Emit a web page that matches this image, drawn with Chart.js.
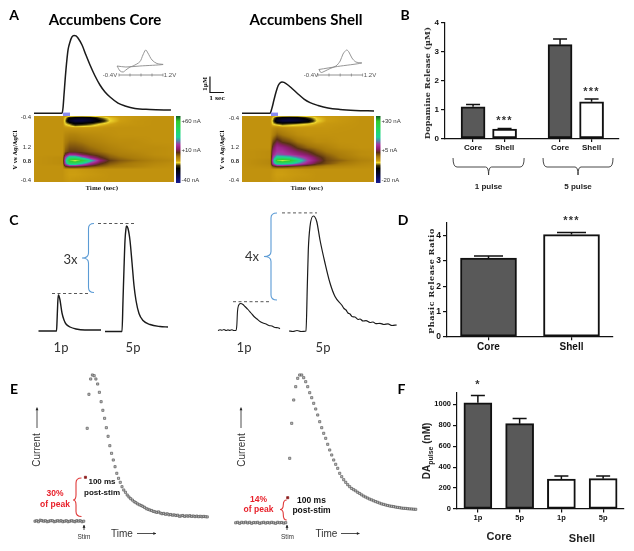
<!DOCTYPE html>
<html>
<head>
<meta charset="utf-8">
<style>
  html, body { margin: 0; padding: 0; background: #fff; }
  #page { position: relative; width: 634px; height: 551px; overflow: hidden; filter: blur(0.3px); }
  #page canvas { position: absolute; }
  .lbl { position: absolute; white-space: nowrap; line-height: 1; }
  .lbl sub { font-size: 70%; line-height: 0; }
</style>
<script src="https://cdn.jsdelivr.net/npm/chart.js@4"></script>
</head>
<body>
<div id="page"></div>
<script>
// Panel A: amperometric traces, seconds from stim vs uM
const coreTraceTime = [-2.07, -0.07, 0, 0.07, 0.21, 0.36, 0.5, 0.64, 0.79, 0.93, 1.07, 1.36, 1.64, 1.93, 2.29, 2.64, 3, 3.36, 3.93, 4.43, 5.14, 6.21, 7.71];
const coreTraceUM = [0, 0, 0.33, 1.14, 2.71, 3.96, 4.46, 4.77, 4.87, 4.84, 4.71, 4.27, 3.64, 3.02, 2.33, 1.77, 1.33, 1.02, 0.64, 0.46, 0.3, 0.24, 0.2];
const shellTraceTime = [-2.07, -0.07, 0.07, 0.21, 0.36, 0.5, 0.64, 0.79, 0.93, 1.21, 1.5, 1.93, 2.36, 2.79, 3.36, 4.07, 4.93, 6, 7.36];
const shellTraceUM = [0, 0, 0.33, 0.83, 1.33, 1.71, 1.89, 1.96, 1.93, 1.77, 1.55, 1.21, 0.89, 0.67, 0.49, 0.33, 0.24, 0.18, 0.14];
const stimTime = [0, 0.5];

// Panel A: cyclic voltammogram insets
const coreCvVolts = [-0.47, -0.36, -0.25, -0.15, 0, 0.11, 0.36, 0.47, 0.57, 0.65, 0.8, 0.98, 1.2, 0.36, -0.15, -0.47];
const coreCvCurrent = [0, -5, -6, -4, -1, 0, 4.3, 11, 16, 13, 6, 2.5, 1.5, 0, -1, 0];
const shellCvVolts = [-0.36, -0.29, -0.14, 0.04, 0.25, 0.4, 0.5, 0.63, 0.71, 0.82, 0.96, 1.17, 0.3, -0.36];
const shellCvCurrent = [0, -3.5, -2, 0.5, 3, 8, 15, 19, 17, 11, 7, 6, 2.5, -0.5];
const cvAxisVolts = [-0.4, 0, 0.4, 0.8, 1.2];

// Panel A: colour plots, one row per scan sample, one column per time
const heatTimes = [-2.14, -0.1, 0.1, 0.4, 0.8, 1.3, 1.9, 2.6, 3.3, 4, 5, 6.5, 8.9];
const heatSamples = [0, 2, 5, 8, 12, 19, 26, 32, 36, 39, 42, 45, 48, 51, 54, 59, 67];
const coreHeat = [
  [-5, -5, -6, -7.5, -7.5, -7.5, -7, -7, -6.5, -6, -5.5, -5, -5],
  [-5, -5, -10, -20, -24, -26, -24, -14, -9, -7, -6, -5, -5],
  [-5, -5, -12, -27, -32, -32, -28, -20, -10, -7, -5.5, -5, -5],
  [-5, -5, -10, -13, -20, -18, -15, -10, -7.5, -6, -5.5, -5, -5],
  [-5, -5, -5.5, -6, -6, -6, -6, -5.5, -5, -5, -5, -5, -5],
  [-5, -5, -3, -2, -2, -3, -3.5, -4, -4.5, -5, -5, -5, -5],
  [-5, -5, -1, 1, 1, 0, -1.5, -2.5, -3.5, -4, -4, -5, -5],
  [-5, -5, 1, 4, 4, 3, 1, -0.5, -2, -3, -4, -4, -5],
  [-5, -5, 3, 6, 6, 5, 3, 1, -1, -2, -3, -4, -5],
  [-5, -5, 9, 18, 17, 11, 7, 4, 1, -1, -2, -4, -5],
  [-5, -4, 20, 40, 40, 28, 16, 8, 3, 1, -1, -3, -5],
  [-5, -4, 26, 62, 72, 58, 34, 14, 6, 3, 1, -2, -4],
  [-5, -4, 22, 44, 44, 32, 18, 8, 3, 1, -1, -3, -5],
  [-5, -5, 6, 10, 10, 8, 5, 2, 0, -1, -2, -4, -5],
  [-5, -5, -6, -6.5, -6.5, -6, -5.5, -5, -5, -5, -5, -5, -5],
  [-5, -5, -6, -7, -7, -6.5, -6, -5.5, -5, -5, -5, -5, -5],
  [-5, -5, -5.5, -6, -5.5, -5.5, -5, -5, -5, -5, -5, -5, -5]
];
const shellHeat = [
  [-2.5, -2.5, -3, -4, -4, -4, -4, -3.8, -3.4, -3, -2.8, -2.5, -2.5],
  [-2.5, -2.5, -5, -10, -12, -13, -12, -8, -4.5, -3.5, -3, -2.5, -2.5],
  [-2.5, -2.5, -6, -14, -16, -16, -15, -12, -5, -3.5, -3, -2.5, -2.5],
  [-2.5, -2.5, -5, -6.5, -8, -7, -6, -5, -3.8, -3, -2.8, -2.5, -2.5],
  [-2.5, -2.5, -2, -1.5, -2, -2.5, -2.8, -2.8, -2.8, -2.8, -2.6, -2.5, -2.5],
  [-2.5, -2.5, -1, 1, 0, -1, -2, -2.5, -2.5, -2.5, -2.5, -2.5, -2.5],
  [-2.5, -2.5, 2, 5, 3, 2, 0, -1, -2, -2, -2.5, -2.5, -2.5],
  [-2.5, -2.5, 5, 9, 8, 6, 3, 1, 0, -1, -2, -2.5, -2.5],
  [-2.5, -2, 7, 10, 10, 8, 6, 4, 1.5, 0, -1, -2, -2.5],
  [-2.5, -2, 8, 12, 11, 10, 8, 6, 3, 1, -0.5, -2, -2.5],
  [-2.5, -2, 10, 19, 19, 17, 13, 9, 5, 2, 0, -1.5, -2.5],
  [-2.5, -1.5, 12, 32, 36, 32, 20, 11, 6, 2.5, 1, -1, -2],
  [-2.5, -1.5, 10, 20, 20, 18, 13, 8, 4, 2, 0, -1.5, -2.5],
  [-2.5, -2, 2, 4, 4, 3, 2, 1, 0, -1, -1.5, -2, -2.5],
  [-2.5, -2.5, -2.8, -3.2, -3.2, -3, -2.8, -2.5, -2.5, -2.5, -2.5, -2.5, -2.5],
  [-2.5, -2.5, -3, -3.5, -3.5, -3.2, -3, -2.8, -2.5, -2.5, -2.5, -2.5, -2.5],
  [-2.5, -2.5, -2.8, -3, -2.8, -2.8, -2.5, -2.5, -2.5, -2.5, -2.5, -2.5, -2.5]
];
const heatVoltLabels = ['-0.4', '1.2', '0.8', '-0.4'];
const coreVoltTicks = [1, 31, 44.7, 64];
const shellVoltTicks = [2, 31.5, 45, 64.5];
const coreBarTicks = [60, 10, -40];
const shellBarTicks = [30, 5, -20];

// Panel B
const bLabels = ['Core', 'Shell', 'Core', 'Shell'];
const bPositions = [1, 2, 3.76, 4.76];
const bValues = [1.1, 0.33, 3.25, 1.27];
const bErrors = [0.08, 0.02, 0.2, 0.1];
const bStars = ['', '***', '', '***'];
const bTicks = [0, 1, 2, 3, 4];
const bGroupFrom = [0.365, 3.22];
const bGroupTo = [2.62, 5.44];

// Panel C: traces, 1p and 5p, arbitrary units
const c1pCoreTime = [8.5, 26.5, 27, 27.7, 28.3, 29, 30, 32, 34, 36, 40, 46, 55, 71];
const c1pCoreCurrent = [0.5, 0.5, 9.5, 27.5, 36.5, 35.5, 31.5, 18.5, 11.5, 7.5, 4.5, 2.5, 1.5, 1.5];
const c5pCoreTime = [75, 92, 93, 94, 95, 96, 96.5, 98, 100, 102, 104, 106, 109, 113, 120, 130, 138];
const c5pCoreCurrent = [0, 0, 31, 63, 91, 103, 105.5, 103, 91, 69, 46, 31, 18, 11, 7, 5, 4.5];
const c1pShellTime = [8, 10, 12, 14, 16, 18, 20, 22, 24, 26, 26.8, 27.5, 28.5, 30.7, 33, 35, 38, 41, 44, 47, 50, 53, 56, 59, 62, 65, 68, 70];
const c1pShellCurrent = [1, 1.8, 1.2, 2, 1, 1.6, 1.1, 1.7, 1, 1.1, 6, 20, 26, 28, 27, 25, 22, 18.5, 15, 12.5, 10, 8.5, 7.5, 6, 5.5, 4, 3.8, 2.8];
const c5pShellTime = [79, 83, 87, 91, 96, 97.3, 98.3, 100, 103.3, 106.7, 110, 115, 120, 125, 131.7, 134, 136, 138, 140, 142, 145, 148, 150, 153, 156, 160, 163, 166, 170, 174, 178, 182, 186.7];
const c5pShellCurrent = [0.5, 0, 1, 0, 0.5, 45, 81.5, 105, 115.5, 110, 91.5, 68.5, 48.5, 35, 26.5, 23, 21.5, 18.5, 17.5, 15, 14.5, 12, 12.5, 10.5, 10.8, 9, 9.5, 7.8, 8.2, 7, 7.6, 6, 6.5];

// Panel D
const dLabels = ['Core', 'Shell'];
const dValues = [3.12, 4.05];
const dErrors = [0.08, 0.08];
const dStars = ['', '***'];
const dTicks = [0, 1, 2, 3, 4];

// Panel E: current per sample around the stim
const eCoreCurrent = [0.5, 1, 0, 1.5, 1, 0.5, 1, 0, 0.5, 1, 1, 0, 0.5, 1, 0.5, 1, 0, 0.5, 1, 0, 0.5, 1, 0.5, 0, 1, 0.5, 1, 0, 0.5,
  44.4, 93.4, 127.4, 142.7, 146.7, 146, 142.7, 137.7, 129.4, 120, 111.4, 103.4, 94, 85.4, 76, 68.4, 61.7, 55, 48.4,
  43.4, 39.4, 35, 31.7, 29.4, 26.7, 24.7, 23, 21.6, 20, 19, 17.8, 16.9, 16.2, 15.3, 14.3, 13, 12.4, 11.7, 11.2, 10.3, 9.9, 9.3, 9.8, 8.7, 8, 8.3, 7.4, 7.9, 6.9, 7.2, 6.5, 6.8, 6.2, 6.5, 5.4, 5.8, 6.2, 5.3, 5.9, 5.5, 6, 5.3, 5.7, 5.1, 5.6, 5, 5.4, 4.9, 5.3, 5, 4.8];
const eShellCurrent = [0.5, 1, 0, 1, 0.5, 1.2, 0.3, 1, 0, 0.8, 0.5, 1, 0, 0.5, 1, 0.2, 0.8, 0.3, 1, 0.5, 0, 1, 0.5, 0.8, 0.2, 0.6,
  25.6, 65, 100, 123.3, 136.6, 145, 148.3, 148.3, 145.6, 141.6, 136.6, 130.6, 125.6, 120, 114.3, 108.3, 101.6, 95.6, 90, 85, 79, 73.3, 68.3, 63.3, 59, 55, 50, 46.6,
  43.6, 41, 38.6, 36.6, 34.8, 33.6, 32.4, 31, 29.8, 28.4, 27.2, 26.2, 25.2, 24.2, 23.4, 22.5, 21.7, 21, 20.2, 19.4, 18.9, 18.3, 17.8, 17.3, 17, 16.7, 16.2, 15.9, 15.6, 15.2, 15, 14.9, 14.6, 14.4, 14.3, 14.1, 14];
const eCorePostStim = 29;
const eShellPostStim = 26;

// Panel F
const fLabels = ['1p', '5p', '1p', '5p'];
const fValues = [1015, 815, 285, 290];
const fErrors = [70, 50, 30, 25];
const fStars = ['*', '', '', ''];
const fTicks = [0, 200, 400, 600, 800, 1000];

const barGrey = '#595959';
const INK = '#111';
const SANS = '"Liberation Sans", Arial, sans-serif';
const SERIF = '"DejaVu Serif", serif';
const LATO = 'Lato, sans-serif';

Chart.defaults.animation = false;
Chart.defaults.responsive = false;
Chart.defaults.plugins.legend.display = false;
Chart.defaults.plugins.tooltip.enabled = false;

const page = document.getElementById('page');

function text(str, x, y, opts = {}) {
  const el = document.createElement('div');
  el.className = 'lbl';
  el.innerHTML = str;
  el.style.left = x + 'px';
  el.style.top = y + 'px';
  el.style.font = `${opts.weight || 'normal'} ${opts.size || 8}px ${opts.family || SANS}`;
  el.style.color = opts.color || INK;
  if (opts.spacing) el.style.letterSpacing = opts.spacing + 'px';
  el.style.transform = `translate(-50%, -50%)${opts.rotate ? ` rotate(${opts.rotate}deg)` : ''}`;
  page.appendChild(el);
}

function addCanvas(box) {
  const canvas = document.createElement('canvas');
  canvas.width = box.right - box.left;
  canvas.height = box.bottom - box.top;
  canvas.style.left = box.left + 'px';
  canvas.style.top = box.top + 'px';
  page.appendChild(canvas);
  return canvas;
}

function zip(xs, ys) {
  return xs.map((x, i) => ({ x, y: ys[i] }));
}

// Drawing helpers work in page pixels, shifted to the canvas of the chart.
function overlay(box, draw) {
  return {
    id: 'overlay',
    afterDraw(chart) {
      const ctx = chart.ctx;
      ctx.save();
      ctx.translate(-box.left, -box.top);
      draw(ctx);
      ctx.restore();
    }
  };
}

function vBrace(ctx, spine, end, tip, top, mid, bottom, color) {
  const r = 5;
  ctx.strokeStyle = color;
  ctx.lineWidth = 1.1;
  ctx.beginPath();
  ctx.moveTo(end, top);
  ctx.quadraticCurveTo(spine, top, spine, top + r);
  ctx.lineTo(spine, mid - r);
  ctx.quadraticCurveTo(spine, mid, tip, mid);
  ctx.quadraticCurveTo(spine, mid, spine, mid + r);
  ctx.lineTo(spine, bottom - r);
  ctx.quadraticCurveTo(spine, bottom, end, bottom);
  ctx.stroke();
}

function arrow(ctx, x1, y1, x2, y2, head, color) {
  const a = Math.atan2(y2 - y1, x2 - x1);
  ctx.strokeStyle = color;
  ctx.fillStyle = color;
  ctx.lineWidth = 0.8;
  ctx.beginPath();
  ctx.moveTo(x1, y1);
  ctx.lineTo(x2, y2);
  ctx.stroke();
  ctx.beginPath();
  ctx.moveTo(x2, y2);
  ctx.lineTo(x2 - head * Math.cos(a - 0.5), y2 - head * Math.sin(a - 0.5));
  ctx.lineTo(x2 - head * Math.cos(a + 0.5), y2 - head * Math.sin(a + 0.5));
  ctx.fill();
}

// A chart with hidden axes filling its canvas: traces, voltammograms, dot plots.
function traceChart(box, xOrigin, xPerUnit, yOrigin, yPerUnit, datasets, plugins = []) {
  return new Chart(addCanvas(box), {
    type: 'scatter',
    data: { datasets },
    options: {
      layout: { autoPadding: false, padding: 0 },
      scales: {
        x: { type: 'linear', display: false, min: (box.left - xOrigin) / xPerUnit, max: (box.right - xOrigin) / xPerUnit },
        y: { type: 'linear', display: false, min: (yOrigin - box.bottom) / yPerUnit, max: (yOrigin - box.top) / yPerUnit }
      }
    },
    plugins
  });
}

function line(xs, ys, color, width, extra = {}) {
  return Object.assign({
    data: zip(xs, ys), showLine: true, pointRadius: 0, borderColor: color, borderWidth: width,
    cubicInterpolationMode: 'monotone', clip: false
  }, extra);
}

function straight(xs, ys, color, width, extra = {}) {
  return line(xs, ys, color, width, Object.assign({ cubicInterpolationMode: 'default' }, extra));
}

function cvAxis(current) {
  return straight(cvAxisVolts, cvAxisVolts.map(() => current), '#777', 0.8, {
    pointRadius: 1.5, pointStyle: 'line', pointRotation: 90, pointBorderColor: '#777', pointBorderWidth: 0.7
  });
}

// Colour plot. Values are bilinear between table cells, read through the chart scales.
const heatStops = [
  [-45, 25, 30, 150], [-35, 10, 10, 90], [-28, 5, 5, 40], [-20, 0, 0, 0], [-15, 60, 50, 8], [-10, 240, 215, 45],
  [-7, 205, 158, 16], [-5, 193, 146, 14], [0, 165, 120, 10], [7, 90, 50, 20], [13, 140, 30, 110], [20, 170, 50, 160], [28, 70, 150, 170],
  [33, 30, 210, 150], [45, 35, 215, 100], [60, 50, 205, 50], [72, 205, 240, 70]
];
const barStops = heatStops.slice(0, -1).concat([[69, 15, 90, 35]]);

function colorFor(stops, v) {
  if (v <= stops[0][0]) return stops[0].slice(1);
  for (let i = 1; i < stops.length; i++) {
    if (v <= stops[i][0]) {
      const a = stops[i - 1], b = stops[i], f = (v - a[0]) / (b[0] - a[0]);
      return [a[1] + (b[1] - a[1]) * f, a[2] + (b[2] - a[2]) * f, a[3] + (b[3] - a[3]) * f];
    }
  }
  return stops[stops.length - 1].slice(1);
}

function cellIndex(axis, v) {
  let i = 0;
  while (i < axis.length - 2 && v > axis[i + 1]) i++;
  const f = Math.min(1, Math.max(0, (v - axis[i]) / (axis[i + 1] - axis[i])));
  return [i, f];
}

function heatChart(box, plot, table, colorScale, voltTicks, tMax) {
  const heatPlugin = {
    id: 'heat',
    beforeDatasetsDraw(chart) {
      const { ctx, chartArea: a, scales } = chart;
      const w = Math.round(a.right - a.left), h = Math.round(a.bottom - a.top);
      const img = ctx.createImageData(w, h);
      for (let py = 0; py < h; py++) {
        const [r, fr] = cellIndex(heatSamples, scales.y.getValueForPixel(a.top + py + 0.5));
        for (let px = 0; px < w; px++) {
          const [c, fc] = cellIndex(heatTimes, scales.x.getValueForPixel(a.left + px + 0.5));
          const top = table[r][c] * (1 - fc) + table[r][c + 1] * fc;
          const bot = table[r + 1][c] * (1 - fc) + table[r + 1][c + 1] * fc;
          const rgb = colorFor(heatStops, (top * (1 - fr) + bot * fr) * colorScale);
          const o = (py * w + px) * 4;
          img.data[o] = rgb[0];
          img.data[o + 1] = rgb[1];
          img.data[o + 2] = rgb[2];
          img.data[o + 3] = 255;
        }
      }
      ctx.putImageData(img, a.left, a.top);
    }
  };
  return new Chart(addCanvas(box), {
    type: 'scatter',
    data: { datasets: [{ data: [] }] },
    options: {
      layout: { autoPadding: false, padding: { top: plot.top - box.top, right: box.right - plot.right } },
      scales: {
        x: {
          type: 'linear', min: heatTimes[0], max: tMax,
          grid: { display: false, drawTicks: false }, border: { display: false }, ticks: { display: false },
          afterFit(s) { s.height = box.bottom - plot.bottom; }
        },
        y: {
          type: 'linear', reverse: true, min: 0, max: 67,
          grid: { display: false, drawTicks: false }, border: { display: false },
          afterBuildTicks(s) { s.ticks = voltTicks.map(value => ({ value })); },
          ticks: {
            autoSkip: false, padding: 3, color: '#333',
            font: c => ({ family: SANS, size: 6, weight: c.index === 2 ? 'bold' : 'normal' }),
            callback: (v, i) => heatVoltLabels[i]
          },
          afterFit(s) { s.width = plot.left - box.left; }
        }
      }
    },
    plugins: [heatPlugin]
  });
}

function colorbarChart(box, plot, ticks, colorScale, yMin, yMax) {
  const barPlugin = {
    id: 'colorbar',
    beforeDatasetsDraw(chart) {
      const { ctx, chartArea: a, scales } = chart;
      for (let py = Math.round(a.top); py < a.bottom; py++) {
        const rgb = colorFor(barStops, scales.y.getValueForPixel(py + 0.5) * colorScale);
        ctx.fillStyle = `rgb(${rgb[0]},${rgb[1]},${rgb[2]})`;
        ctx.fillRect(a.left, py, a.right - a.left, 1);
      }
    }
  };
  return new Chart(addCanvas(box), {
    type: 'scatter',
    data: { datasets: [{ data: [] }] },
    options: {
      layout: {
        autoPadding: false,
        padding: { left: plot.left - box.left, top: plot.top - box.top, bottom: box.bottom - plot.bottom }
      },
      scales: {
        x: { display: false },
        y: {
          type: 'linear', position: 'right', min: yMin, max: yMax,
          grid: { display: false, drawTicks: false }, border: { display: false },
          afterBuildTicks(s) { s.ticks = ticks.map(value => ({ value })); },
          ticks: {
            autoSkip: false, padding: 1, color: '#333', font: { family: SANS, size: 6 },
            callback: v => (v > 0 ? '+' : '') + v + ' nA'
          },
          afterFit(s) { s.width = box.right - plot.right; }
        }
      }
    },
    plugins: [barPlugin]
  });
}

// Error bars and significance stars come from the dataset.
const barMarks = {
  id: 'barMarks',
  afterDatasetsDraw(chart) {
    const { ctx, scales } = chart;
    const ds = chart.data.datasets[0];
    chart.getDatasetMeta(0).data.forEach((bar, i) => {
      const value = typeof ds.data[i] === 'object' ? ds.data[i].y : ds.data[i];
      const top = scales.y.getPixelForValue(value + ds.errors[i]);
      ctx.strokeStyle = INK;
      ctx.lineWidth = 1.5;
      ctx.beginPath();
      ctx.moveTo(bar.x, bar.y);
      ctx.lineTo(bar.x, top);
      ctx.moveTo(bar.x - ds.capWidth / 2, top);
      ctx.lineTo(bar.x + ds.capWidth / 2, top);
      ctx.stroke();
      if (ds.stars[i]) {
        ctx.fillStyle = '#333';
        ctx.font = `bold ${ds.starSize}px ${SANS}`;
        ctx.letterSpacing = '1.2px';
        ctx.textAlign = 'center';
        ctx.textBaseline = 'alphabetic';
        ctx.fillText(ds.stars[i], bar.x, top - ds.starGap);
      }
    });
  }
};

function barOptions(box, plot, yMax, yTicks, tickSize, xSize, x = {}) {
  return {
    layout: { autoPadding: false, padding: { top: plot.top - box.top, right: box.right - plot.right } },
    scales: {
      x: Object.assign({
        grid: { display: true, drawOnChartArea: false, offset: false, color: INK, lineWidth: 1.2, tickLength: 3.5 },
        border: { display: true, color: INK, width: 1.2 },
        ticks: { color: INK, padding: 1, font: { family: SANS, weight: 'bold', size: xSize }, maxRotation: 0, autoSkip: false },
        afterFit(s) { s.height = box.bottom - plot.bottom; }
      }, x),
      y: {
        min: 0, max: yMax,
        grid: { display: true, drawOnChartArea: false, color: INK, lineWidth: 1.2, tickLength: 4 },
        border: { display: true, color: INK, width: 1.2 },
        afterBuildTicks(s) { s.ticks = yTicks.map(value => ({ value })); },
        ticks: { color: INK, padding: 2, autoSkip: false, font: { family: SANS, weight: 'bold', size: tickSize }, callback: v => String(v) },
        afterFit(s) { s.width = plot.left - box.left; }
      }
    }
  };
}

function barDataset(data, errors, stars, colors, thickness, capWidth, starSize, starGap) {
  return {
    data, errors, stars, capWidth, starSize, starGap,
    backgroundColor: colors, borderColor: INK, borderWidth: 2, borderSkipped: false, barThickness: thickness
  };
}

// ---- Panel A
traceChart({ left: 30, top: 25, right: 178, bottom: 120 }, 63, 14, 113.3, 16, [
  straight(stimTime, [-0.08, -0.08], '#8a8cf0', 4),
  line(coreTraceTime, coreTraceUM, '#1a1a1a', 1.5)
]);
traceChart({ left: 205, top: 70, right: 378, bottom: 120 }, 271, 14, 113.3, 16, [
  straight(stimTime, [-0.08, -0.08], '#8a8cf0', 4),
  line(shellTraceTime, shellTraceUM, '#1a1a1a', 1.5),
  // scale bar, 1 uM by 1 sec
  straight([-4.36, -4.36, -3.36], [2.3, 1.3, 1.3], '#111', 1.2)
]);
traceChart({ left: 112, top: 45, right: 170, bottom: 80 }, 130, 27.5, 66, 1, [
  cvAxis(-9),
  straight(coreCvVolts, coreCvCurrent, '#8a8a8a', 0.9, { tension: 0.3 })
]);
traceChart({ left: 312, top: 45, right: 370, bottom: 80 }, 329, 28, 69, 1, [
  cvAxis(-6),
  straight(shellCvVolts, shellCvCurrent, '#8a8a8a', 0.9, { tension: 0.3 })
]);

heatChart({ left: 8, top: 110, right: 176, bottom: 192 }, { left: 34, top: 116, right: 174, bottom: 183 }, coreHeat, 1, coreVoltTicks, 7.86);
heatChart({ left: 216, top: 110, right: 376, bottom: 192 }, { left: 242, top: 116, right: 374, bottom: 183 }, shellHeat, 2, shellVoltTicks, 7.43);
colorbarChart({ left: 175, top: 110, right: 205, bottom: 190 }, { left: 176, top: 116, right: 180.5, bottom: 183 }, coreBarTicks, 1, -44.6, 69);
colorbarChart({ left: 375, top: 110, right: 403, bottom: 190 }, { left: 376, top: 116, right: 380.5, bottom: 183 }, shellBarTicks, 2, -22.3, 34.5);

text('A', 14, 14, { size: 14, weight: 'bold', family: LATO, color: '#000' });
text('Accumbens Core', 105, 18.5, { size: 15, weight: 'bold', family: LATO, color: '#000' });
text('Accumbens Shell', 306, 18.5, { size: 15, weight: 'bold', family: LATO, color: '#000' });
text('-0.4V', 110, 75, { size: 6, color: '#555' });
text('1.2V', 170, 75, { size: 6, color: '#555' });
text('-0.4V', 311, 75, { size: 6, color: '#555' });
text('1.2V', 370, 75, { size: 6, color: '#555' });
text('1µM', 205, 84, { size: 5.5, weight: 'bold', family: SERIF, rotate: -90 });
text('1 sec', 217, 98, { size: 5.5, weight: 'bold', family: SERIF });
text('V vs Ag/AgCl', 15, 150, { size: 5.5, weight: 'bold', family: SERIF, rotate: -90 });
text('V vs Ag/AgCl', 222, 150, { size: 5.5, weight: 'bold', family: SERIF, rotate: -90 });
text('Time (sec)', 102, 188, { size: 5.5, weight: 'bold', family: SERIF });
text('Time (sec)', 307, 188, { size: 5.5, weight: 'bold', family: SERIF });

// ---- Panel B
const bCanvasBox = { left: 425, top: 15, right: 625, bottom: 180 };
const bPlot = { left: 445, top: 23, right: 619, bottom: 138.5 };
const bBraces = {
  id: 'bBraces',
  afterDraw(chart) {
    const { ctx, scales } = chart;
    const yTop = 140;
    ctx.strokeStyle = '#333';
    ctx.lineWidth = 0.9;
    bGroupFrom.forEach((from, i) => {
      const x1 = scales.x.getPixelForValue(from);
      const x2 = scales.x.getPixelForValue(bGroupTo[i]);
      const mid = (x1 + x2) / 2;
      ctx.beginPath();
      ctx.moveTo(x1, yTop + 3);
      ctx.quadraticCurveTo(x1, yTop + 12, x1 + 4, yTop + 12);
      ctx.lineTo(mid - 3, yTop + 12);
      ctx.quadraticCurveTo(mid, yTop + 12, mid, yTop + 20);
      ctx.quadraticCurveTo(mid, yTop + 12, mid + 3, yTop + 12);
      ctx.lineTo(x2 - 4, yTop + 12);
      ctx.quadraticCurveTo(x2, yTop + 12, x2, yTop + 3);
      ctx.stroke();
    });
  }
};
new Chart(addCanvas(bCanvasBox), {
  type: 'bar',
  data: { datasets: [barDataset(zip(bPositions, bValues), bErrors, bStars, [barGrey, '#fff', barGrey, '#fff'], 24, 14, 11, 4)] },
  options: barOptions(bCanvasBox, bPlot, 4, bTicks, 8, 8, {
    type: 'linear', offset: false, min: 0.11, max: 5.63,
    afterBuildTicks(s) { s.ticks = bPositions.map(value => ({ value })); },
    ticks: {
      color: INK, padding: 1, font: { family: SANS, weight: 'bold', size: 8 }, autoSkip: false, maxRotation: 0,
      callback: (v, i) => bLabels[i]
    }
  }),
  plugins: [barMarks, bBraces]
});
text('B', 405, 14, { size: 14, weight: 'bold', family: LATO, color: '#000' });
text('Dopamine Release (µM)', 427, 83, { size: 8, weight: 'bold', family: SERIF, rotate: -90, color: '#222', spacing: 0.2 });
text('1 pulse', 488.5, 185.5, { size: 8, weight: 'bold', color: '#222' });
text('5 pulse', 578, 185.5, { size: 8, weight: 'bold', color: '#222' });

// ---- Panel C
const cCoreBox = { left: 30, top: 215, right: 175, bottom: 340 };
traceChart(cCoreBox, 30, 1, 331.5, 1, [
  straight([22, 58], [38, 38], '#444', 0.9, { borderDash: [3, 2.5] }),
  straight([68, 104], [108, 108], '#444', 0.9, { borderDash: [3, 2.5] }),
  line(c1pCoreTime, c1pCoreCurrent, '#1a1a1a', 1.4),
  line(c5pCoreTime, c5pCoreCurrent, '#1a1a1a', 1.4)
], [overlay(cCoreBox, ctx => vBrace(ctx, 88.5, 94, 82, 223.5, 258, 292.5, '#5b9bd5'))]);

const cShellBox = { left: 210, top: 205, right: 400, bottom: 340 };
traceChart(cShellBox, 210, 1, 331.5, 1, [
  straight([23, 59], [29.8, 29.8], '#444', 0.9, { borderDash: [3, 2.5] }),
  straight([72, 107], [118.6, 118.6], '#444', 0.9, { borderDash: [3, 2.5] }),
  line(c1pShellTime, c1pShellCurrent, '#1a1a1a', 1.1),
  line(c5pShellTime, c5pShellCurrent, '#1a1a1a', 1.2)
], [overlay(cShellBox, ctx => vBrace(ctx, 271, 277, 264, 213, 256.5, 300, '#5b9bd5'))]);

text('C', 14, 219, { size: 14, weight: 'bold', family: LATO, color: '#000' });
text('3x', 70.5, 259, { size: 13, family: LATO, color: '#333' });
text('1p', 61, 347, { size: 13, family: LATO, color: '#333' });
text('5p', 133, 347, { size: 13, family: LATO, color: '#333' });
text('4x', 252, 256, { size: 13, family: LATO, color: '#333' });
text('1p', 244, 347, { size: 13, family: LATO, color: '#333' });
text('5p', 323, 347, { size: 13, family: LATO, color: '#333' });

// ---- Panel D
const dBox = { left: 425, top: 210, right: 625, bottom: 360 };
const dPlot = { left: 447, top: 222.7, right: 613, bottom: 336.7 };
new Chart(addCanvas(dBox), {
  type: 'bar',
  data: { labels: dLabels, datasets: [barDataset(dValues, dErrors, dStars, [barGrey, '#fff'], 56, 29, 11, 9)] },
  options: barOptions(dBox, dPlot, 4.52, dTicks, 8.5, 10),
  plugins: [barMarks]
});
text('D', 403, 219, { size: 14, weight: 'bold', family: LATO, color: '#000' });
text('Phasic Release Ratio', 430.5, 281, { size: 8, weight: 'bold', family: SERIF, rotate: -90, color: '#222', spacing: 0.6 });

// ---- Panel E
function dotDataset(values, postStim) {
  return {
    data: values.map((y, i) => ({ x: i, y })),
    showLine: false, clip: false, pointStyle: 'rect', pointRadius: 1.5,
    pointBackgroundColor: c => (c.dataIndex === postStim ? '#8b1a1a' : '#c8c8c8'),
    pointBorderColor: c => (c.dataIndex === postStim ? '#8b1a1a' : '#555'),
    pointBorderWidth: 0.7
  };
}
const eCoreBox = { left: 30, top: 370, right: 215, bottom: 530 };
traceChart(eCoreBox, 35, 1.74, 521.7, 1, [dotDataset(eCoreCurrent, eCorePostStim)], [overlay(eCoreBox, ctx => {
  vBrace(ctx, 76, 81.5, 73, 478, 500, 516.5, '#e03a3a');
})]);
const eShellBox = { left: 230, top: 370, right: 420, bottom: 530 };
traceChart(eShellBox, 235.7, 2, 523.3, 1, [dotDataset(eShellCurrent, eShellPostStim)], [overlay(eShellBox, ctx => {
  vBrace(ctx, 283.3, 286.7, 280, 500, 509.5, 520, '#e03a3a');
})]);
const eArrowsBox = { left: 0, top: 400, right: 400, bottom: 551 };
new Chart(addCanvas(eArrowsBox), {
  type: 'scatter',
  data: { datasets: [{ data: [] }] },
  options: { scales: { x: { display: false }, y: { display: false } } },
  plugins: [overlay(eArrowsBox, ctx => {
    arrow(ctx, 37, 428, 37, 407.5, 3, '#222');
    arrow(ctx, 241, 428, 241, 407.5, 3, '#222');
    arrow(ctx, 137, 533.5, 156, 533.5, 3, '#222');
    arrow(ctx, 341, 533.5, 359.5, 533.5, 3, '#222');
    arrow(ctx, 84, 530, 84, 525, 3, '#111');
    arrow(ctx, 287, 530, 287, 525, 3, '#111');
  })]
});
text('E', 14, 388, { size: 14, weight: 'bold', family: LATO, color: '#000' });
text('F', 401.5, 388, { size: 14, weight: 'bold', family: LATO, color: '#000' });
text('Current', 36, 450, { size: 10, color: '#333', rotate: -90 });
text('Current', 240.5, 450, { size: 10, color: '#333', rotate: -90 });
text('Time', 122, 533, { size: 10, color: '#333' });
text('Time', 326.5, 533, { size: 10, color: '#333' });
text('Stim', 84, 535.5, { size: 6.5, color: '#333' });
text('Stim', 287.5, 535.5, { size: 6.5, color: '#333' });
text('30%', 55, 493, { size: 8.5, weight: 'bold', color: '#e8202a' });
text('of peak', 55, 503.5, { size: 8.5, weight: 'bold', color: '#e8202a' });
text('14%', 258.5, 498.5, { size: 8.5, weight: 'bold', color: '#e8202a' });
text('of peak', 258.5, 509, { size: 8.5, weight: 'bold', color: '#e8202a' });
text('100 ms', 102, 481, { size: 8, weight: 'bold' });
text('post-stim', 102, 491.5, { size: 8, weight: 'bold' });
text('100 ms', 311.5, 499.5, { size: 8.5, weight: 'bold' });
text('post-stim', 311.5, 510, { size: 8.5, weight: 'bold' });

// ---- Panel F
const fBox = { left: 430, top: 375, right: 630, bottom: 530 };
const fPlot = { left: 457, top: 393, right: 624, bottom: 509 };
new Chart(addCanvas(fBox), {
  type: 'bar',
  data: { labels: fLabels, datasets: [barDataset(fValues, fErrors, fStars, [barGrey, barGrey, '#fff', '#fff'], 28, 14, 11, 7)] },
  options: barOptions(fBox, fPlot, 1108, fTicks, 7.5, 7.5),
  plugins: [barMarks]
});
text('DA<sub>pulse</sub> (nM)', 426, 451, { size: 10, weight: 'bold', rotate: -90, color: '#222' });
text('Core', 499, 536, { size: 11, weight: 'bold', color: '#222' });
text('Shell', 582, 538, { size: 11, weight: 'bold', color: '#222' });
</script>
</body>
</html>
